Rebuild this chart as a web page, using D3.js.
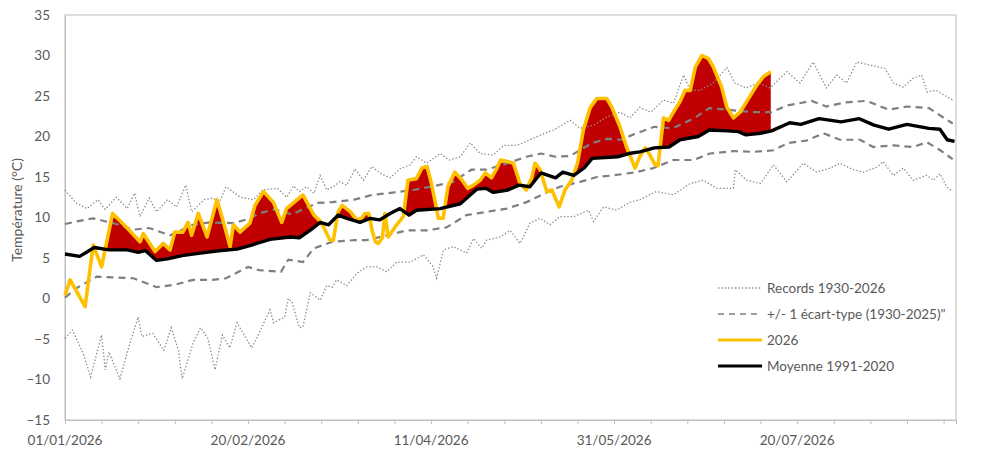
<!DOCTYPE html>
<html>
<head>
<meta charset="utf-8">
<script src="https://cdn.jsdelivr.net/npm/d3@7"></script>
<style>
  body { margin: 0; background: #fff; }
  text { font-family: Lato, "Open Sans", sans-serif; fill: #595959; }
</style>
</head>
<body>
<svg id="chart" width="984" height="453"></svg>
<script>
// values: [day since 01/01/2026, °C]
var recordHigh = [[0,13.4],[3,11.8],[6,11.1],[9,12.2],[11,11.0],[14,12.5],[17,11.1],[19,13.0],[20.5,10.1],[23,12.4],[25,10.7],[28,12.2],[30.5,11.3],[33,14.0],[34.6,10.7],[38,12.2],[40.5,12.4],[42,11.7],[44,13.8],[48,12.5],[51.5,12.2],[54,13.4],[58,13.6],[60.6,12.5],[62.4,13.9],[64,13.2],[66,13.8],[68,13.0],[69.7,15.2],[71.5,13.4],[73.3,13.8],[75,14.4],[77,14.0],[79.2,16.0],[81.5,14.6],[83.8,16.3],[86,15.5],[88.8,14.9],[91.5,16.0],[94.3,16.5],[96,17.5],[98.8,16.7],[102.5,17.9],[105,17.1],[108,17.5],[110.7,19.2],[113.4,17.9],[117,17.7],[119.8,18.9],[123.4,18.9],[127,19.6],[130,20.2],[133.4,20.8],[138,22.0],[140.7,21.0],[144.4,21.4],[148,22.4],[151.6,23.0],[154.3,22.3],[157,23.6],[160,23.0],[163.5,24.5],[166.2,24.1],[169,27.6],[170.8,25.7],[173.5,25.7],[177,26.6],[180.8,28.5],[183,26.6],[186,26.0],[189.5,26.6],[192.6,26.0],[197.2,28.0],[200.8,26.6],[204.4,29.2],[208,26.0],[210.8,27.6],[213.5,26.6],[216.3,29.2],[220,28.8],[224,28.4],[226.3,26.6],[229,26.1],[231.7,27.2],[234,27.6],[235.5,25.5],[238,25.7],[242.5,24.5]];

var recordLow = [[0,-4.9],[2,-3.9],[5,-6.8],[7,-9.7],[10,-4.5],[11,-8.8],[12,-6.6],[15,-9.9],[18,-5.1],[20,-2.3],[21,-4.7],[24,-4.3],[27,-6.4],[29,-3.6],[31,-6.4],[32,-9.9],[35,-5.5],[37,-3.6],[39,-4.9],[41,-8.8],[43,-4.5],[45,-6.1],[47,-3.0],[51,-6.1],[53,-4.3],[56,-1.4],[57,-3.0],[60,-2.3],[61,0.0],[62,-0.4],[64,-3.6],[65,-3.5],[67,0.7],[69.7,-0.2],[71.5,1.6],[73,1.4],[74.2,2.3],[77,1.6],[79.7,3.1],[82.4,3.9],[85.2,3.9],[87.9,3.3],[90.6,4.5],[94.3,4.5],[97.9,5.4],[100.6,3.9],[101.5,2.5],[103.4,6.0],[106.1,6.4],[109.7,5.6],[111.6,7.4],[113.8,6.2],[115.2,7.2],[118.9,7.6],[121.6,8.4],[124.3,6.8],[127,9.3],[129.8,9.9],[132.5,9.1],[135.2,10.1],[139,10.1],[143,10.9],[144.4,9.5],[147.1,11.3],[150.7,10.9],[154.3,11.9],[157.1,12.2],[161.5,13.2],[166.2,12.8],[170.8,14.2],[174.4,14.6],[178,13.6],[182.6,13.6],[183.1,15.9],[186.2,14.6],[190,14.2],[193.5,16.5],[197.2,14.4],[201.7,16.7],[205.3,15.6],[209,16.1],[211.7,16.7],[215.4,15.9],[218.1,15.6],[221.7,16.2],[223.5,16.9],[226.3,15.2],[229,16.1],[231.7,14.6],[235.4,15.2],[237.2,14.6],[239.1,15.4],[240.8,13.8],[242.5,13.2]];

var stdHigh = [[0,9.2],[3,9.5],[7.7,9.9],[10.4,9.6],[14,9.2],[18.6,8.5],[23,8.7],[28.7,7.8],[32,8.5],[35,9.1],[39.6,9.4],[46,9.3],[50,9.8],[53,10.5],[57,11.0],[62,10.4],[66,11.2],[69,11.8],[73,11.9],[79,12.2],[84,12.8],[90,13.1],[95,13.4],[100,13.8],[106,14.4],[111,15.9],[115,15.9],[121,16.7],[126,17.5],[130,17.9],[134,17.5],[138,17.6],[144,19.2],[148,19.7],[152,19.6],[155,20.2],[161,21.2],[166,21.0],[172,22.3],[176,23.5],[181,23.3],[188,23.0],[193,23.0],[197,23.8],[204,24.4],[208,23.7],[213,24.2],[219,24.4],[225,23.3],[230,23.7],[236,23.5],[242.5,21.6]];

var stdLow = [[0,0.1],[3.2,1.3],[8.7,2.7],[13,2.6],[18.7,2.5],[25,1.4],[30,1.7],[35,2.3],[40,2.3],[44,2.5],[50,3.9],[53,3.5],[59,3.3],[61,4.8],[65,4.5],[68,6.2],[73,7.0],[79,7.2],[82.4,7.2],[87.9,7.8],[93.3,8.4],[98.8,8.4],[104.3,8.8],[109.7,10.3],[115.2,10.7],[120.7,11.1],[126.1,11.9],[131.6,13.1],[135.2,13.8],[140.7,14.4],[145.3,15.0],[149.8,15.2],[156.1,15.6],[160.7,16.1],[166.2,17.1],[171.7,17.1],[176.2,17.9],[182.6,18.2],[188.1,18.1],[193.5,18.3],[197.6,19.2],[202.6,19.5],[207.2,20.4],[211.7,19.6],[217.2,19.6],[220.8,18.7],[226.3,18.9],[231.7,18.7],[235.4,19.3],[239.1,18.3],[242.5,17.2]];

var mean = [[0,5.5],[4,5.2],[8,6.3],[12,6.0],[17,6.0],[20,5.7],[22,5.9],[25,4.7],[28,4.9],[32,5.3],[37,5.6],[42,5.9],[47,6.1],[51,6.6],[56,7.3],[61.5,7.6],[64,7.5],[67.8,8.7],[69.7,9.4],[72,9.1],[74.6,10.3],[77,9.9],[80.6,9.4],[83.3,9.9],[86,9.7],[88.8,10.5],[91.5,11.1],[94,10.3],[96,10.9],[102.5,11.1],[108,11.7],[110,12.5],[112.5,13.5],[115,13.6],[117,13.1],[121,13.4],[124,14.0],[127,13.8],[130,15.5],[134,14.9],[136,15.6],[139,15.2],[142,16.2],[144,17.3],[151,17.5],[154,17.9],[157,18.1],[161,18.6],[165,18.7],[168,19.6],[173,20.0],[176,20.8],[181,20.7],[184,20.6],[186,20.2],[190,20.4],[193,20.7],[198,21.7],[201,21.5],[206,22.2],[212,21.8],[217,22.2],[221,21.4],[225,20.9],[230,21.5],[236,21.0],[239,20.9],[241,19.6],[243,19.4]];

var year2026 = [[0,0.4],[1.4,2.3],[5.5,-1.0],[7.7,6.6],[10,3.9],[13,10.5],[16.8,8.8],[20.5,7.0],[21.4,8.0],[24.6,5.8],[26.8,6.8],[28.7,6.0],[30,8.2],[32.2,8.2],[33.6,9.4],[34.6,7.8],[36.4,10.5],[38.8,7.6],[41.5,12.2],[43.3,9.4],[45.1,6.4],[46,9.1],[47.8,8.2],[50.5,9.3],[51.9,11.5],[54.2,13.2],[56.9,11.9],[59.2,9.4],[60.5,11.1],[62.4,11.8],[65,12.8],[68,10.3],[70,9.4],[72.4,7.2],[73.3,7.2],[74.6,10.7],[75.7,11.5],[78,10.7],[79.7,9.7],[81,9.9],[82,10.5],[83,10.5],[83.9,8.4],[84.8,7.0],[85.6,6.8],[86.7,7.5],[87.4,10.5],[88.3,7.6],[90.6,9.1],[92.4,10.1],[93.7,14.6],[96,14.8],[97.5,16.1],[98.9,16.3],[100,14.4],[101,12.2],[102,9.9],[103.3,9.9],[104.6,13.8],[106.5,15.6],[108.5,14.6],[110,13.6],[111.6,14.0],[113.4,14.6],[114.8,15.5],[116.5,14.9],[118,16.1],[119,17.1],[121,16.9],[122.5,16.7],[124.3,14.2],[126,13.4],[127.5,14.9],[128.4,16.7],[129.8,15.9],[131.6,13.2],[133,13.4],[135,11.3],[136.6,13.4],[138.4,14.6],[140,16.7],[141.6,20.8],[143.5,23.6],[145.3,24.7],[148,24.7],[149.4,23.6],[151.6,21.2],[153.4,18.7],[155.7,16.1],[157,17.5],[158.5,18.6],[159.8,17.7],[161.2,16.5],[162,16.4],[163.5,22.3],[164.9,22.0],[166.2,23.0],[168,24.3],[169.4,25.7],[170.8,25.7],[172.2,28.6],[174,30.0],[175.8,29.6],[177.1,28.6],[179.4,26.1],[180.8,23.6],[182.6,22.3],[184.4,23.0],[186.2,24.3],[188.1,25.7],[189.4,26.6],[190.8,27.4],[192.8,28.0]];

var yTicks = [-15, -10, -5, 0, 5, 10, 15, 20, 25, 30, 35];
var labelDays = [0, 50, 100, 150, 200];
var legendLabels = ["Records 1930-2026", "+/- 1 écart-type (1930-2025)\"", "2026", "Moyenne 1991-2020"];

var start = Date.UTC(2026, 0, 1);
function toDate(d) { return new Date(start + d * 864e5); }

// plot box (window.top is read-only, so no bare "top")
var plot = { x0: 65, x1: 956, y0: 15, y1: 420 };

var svg = d3.select("#chart");

var x = d3.scaleUtc().domain([toDate(0), toDate(243.4)]).range([plot.x0, plot.x1]);
var y = d3.scaleLinear().domain([-15, 35]).range([plot.y1, plot.y0]);

// frame
svg.append("rect")
  .attr("x", plot.x0).attr("y", plot.y0)
  .attr("width", plot.x1 - plot.x0).attr("height", plot.y1 - plot.y0)
  .attr("fill", "none").attr("stroke", "#c8c8c8").attr("stroke-width", 1.2);

// y axis
var yAxis = svg.append("g")
  .attr("transform", "translate(" + plot.x0 + ",0)")
  .call(d3.axisLeft(y).tickValues(yTicks).tickSize(0).tickPadding(15));
yAxis.select(".domain").attr("stroke", "#bfbfbf");
yAxis.selectAll("text").style("font-size", "13.5px").attr("fill", "#595959");

// x axis: minor ticks every 10 days, labels every 50
var minorDays = d3.range(0, 241, 10);
var xAxis = svg.append("g")
  .attr("transform", "translate(0," + plot.y1 + ")")
  .call(d3.axisBottom(x).tickValues(minorDays.map(toDate)).tickSize(4).tickFormat(""));
xAxis.select(".domain").attr("stroke", "#bfbfbf");
xAxis.selectAll(".tick line").attr("stroke", "#bfbfbf");

svg.append("g").selectAll("text")
  .data(labelDays)
  .enter().append("text")
  .attr("x", function(d) { return x(toDate(d)); })
  .attr("y", 445)
  .attr("text-anchor", "middle")
  .style("font-size", "13.5px")
  .text(function(d) { return d3.utcFormat("%d/%m/%Y")(toDate(d)); });

// y title
svg.append("text")
  .attr("transform", "translate(22,210) rotate(-90)")
  .attr("text-anchor", "middle")
  .style("font-size", "14px")
  .text("Température (°C)");

var line = d3.line()
  .x(function(d) { return x(toDate(d[0])); })
  .y(function(d) { return y(d[1]); });

// red fill: under 2026, above the mean
svg.append("clipPath").attr("id", "aboveMean")
  .append("path")
  .attr("d", d3.area()
    .x(function(d) { return x(toDate(d[0])); })
    .y0(plot.y0)
    .y1(function(d) { return y(d[1]); })(mean));

svg.append("path")
  .attr("d", d3.area()
    .x(function(d) { return x(toDate(d[0])); })
    .y0(plot.y1)
    .y1(function(d) { return y(d[1]); })(year2026))
  .attr("fill", "#c00000")
  .attr("clip-path", "url(#aboveMean)");

// records
[recordHigh, recordLow].forEach(function(s) {
  svg.append("path").datum(s).attr("d", line)
    .attr("fill", "none").attr("stroke", "#8a8a8a")
    .attr("stroke-width", 1.3).attr("stroke-dasharray", "1.4,2");
});

// +/- 1 std
[stdHigh, stdLow].forEach(function(s) {
  svg.append("path").datum(s).attr("d", line)
    .attr("fill", "none").attr("stroke", "#7f7f7f")
    .attr("stroke-width", 2.2).attr("stroke-dasharray", "7,5");
});

svg.append("path").datum(year2026).attr("d", line)
  .attr("fill", "none").attr("stroke", "#ffc000")
  .attr("stroke-width", 3.6).attr("stroke-linejoin", "round");

svg.append("path").datum(mean).attr("d", line)
  .attr("fill", "none").attr("stroke", "#000")
  .attr("stroke-width", 3.4).attr("stroke-linejoin", "round");

// legend
var legendStyles = [
  { stroke: "#8a8a8a", width: 1.3, dash: "1.4,2" },
  { stroke: "#7f7f7f", width: 1.6, dash: "6,5" },
  { stroke: "#ffc000", width: 3, dash: null },
  { stroke: "#000", width: 3, dash: null }
];
var legend = svg.append("g");
legendLabels.forEach(function(label, i) {
  var ly = 288 + i * 26;
  legend.append("line")
    .attr("x1", 718).attr("x2", 762).attr("y1", ly).attr("y2", ly)
    .attr("stroke", legendStyles[i].stroke)
    .attr("stroke-width", legendStyles[i].width)
    .attr("stroke-dasharray", legendStyles[i].dash);
  legend.append("text")
    .attr("x", 767).attr("y", ly + 5)
    .style("font-size", "13.5px")
    .text(label);
});
</script>
</body>
</html>
